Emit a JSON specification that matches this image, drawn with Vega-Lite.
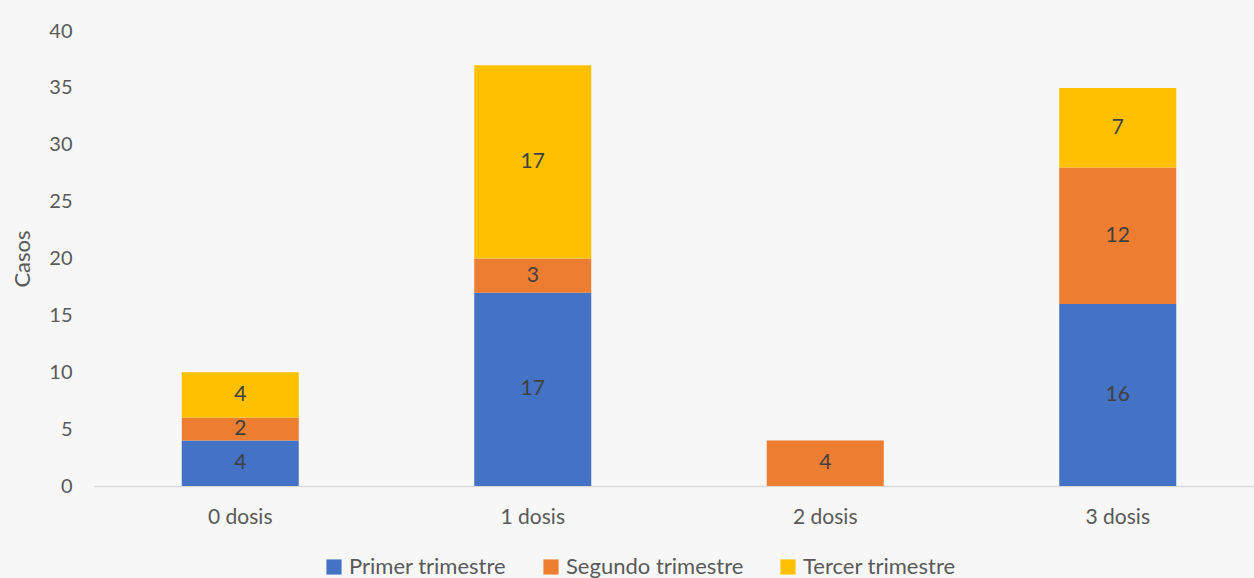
{
  "$schema": "https://vega.github.io/schema/vega-lite/v6.json",
  "autosize": "none",
  "width": 1170,
  "height": 455,
  "padding": {"left": 94, "top": 31, "right": 0, "bottom": 92},
  "background": "#f7f7f7",
  "config": {"view": {"stroke": null}, "font": "Lato"},
  "data": {"values": [
    {"dosis": "0 dosis", "trimestre": "Primer trimestre", "orden": 1, "casos": 4},
    {"dosis": "0 dosis", "trimestre": "Segundo trimestre", "orden": 2, "casos": 2},
    {"dosis": "0 dosis", "trimestre": "Tercer trimestre", "orden": 3, "casos": 4},
    {"dosis": "1 dosis", "trimestre": "Primer trimestre", "orden": 1, "casos": 17},
    {"dosis": "1 dosis", "trimestre": "Segundo trimestre", "orden": 2, "casos": 3},
    {"dosis": "1 dosis", "trimestre": "Tercer trimestre", "orden": 3, "casos": 17},
    {"dosis": "2 dosis", "trimestre": "Segundo trimestre", "orden": 2, "casos": 4},
    {"dosis": "3 dosis", "trimestre": "Primer trimestre", "orden": 1, "casos": 16},
    {"dosis": "3 dosis", "trimestre": "Segundo trimestre", "orden": 2, "casos": 12},
    {"dosis": "3 dosis", "trimestre": "Tercer trimestre", "orden": 3, "casos": 7}
  ]},
  "transform": [
    {"stack": "casos", "groupby": ["dosis"], "sort": [{"field": "orden"}], "as": ["c0", "c1"]},
    {"calculate": "(datum.c0 + datum.c1) / 2", "as": "cmid"}
  ],
  "encoding": {
    "x": {
      "field": "dosis", "type": "nominal", "sort": ["0 dosis", "1 dosis", "2 dosis", "3 dosis"],
      "scale": {"paddingInner": 0.6, "paddingOuter": 0.3},
      "axis": {"title": null, "labelAngle": 0, "labelFontSize": 21, "labelColor": "#595959", "labelPadding": 20, "ticks": false, "domainColor": "#d9d9d9", "domainWidth": 1.5}
    }
  },
  "layer": [
    {
      "mark": {"type": "bar"},
      "encoding": {
        "y": {
          "field": "c1", "type": "quantitative",
          "scale": {"domain": [0, 40]},
          "axis": {"title": "Casos", "titleFontSize": 22, "titleFontWeight": "normal", "titleColor": "#595959", "titlePadding": 14, "labelFontSize": 20, "labelColor": "#595959", "labelPadding": 22, "ticks": false, "domain": false, "grid": false, "values": [0, 5, 10, 15, 20, 25, 30, 35, 40], "labelOverlap": false}
        },
        "y2": {"field": "c0"},
        "color": {
          "field": "trimestre", "type": "nominal",
          "scale": {"domain": ["Primer trimestre", "Segundo trimestre", "Tercer trimestre"], "range": ["#4472C4", "#ED7D31", "#FFC000"]},
          "legend": {"title": null, "orient": "none", "direction": "horizontal", "legendX": 229, "legendY": 525, "symbolType": "square", "symbolSize": 230, "symbolStrokeWidth": 0, "labelFontSize": 22, "labelLimit": 400, "labelColor": "#595959", "columnPadding": 33, "labelOffset": 4}
        }
      }
    },
    {
      "mark": {"type": "text", "fontSize": 21, "color": "#404040", "baseline": "middle"},
      "encoding": {
        "y": {"field": "cmid", "type": "quantitative"},
        "text": {"field": "casos", "type": "quantitative"}
      }
    }
  ]
}
